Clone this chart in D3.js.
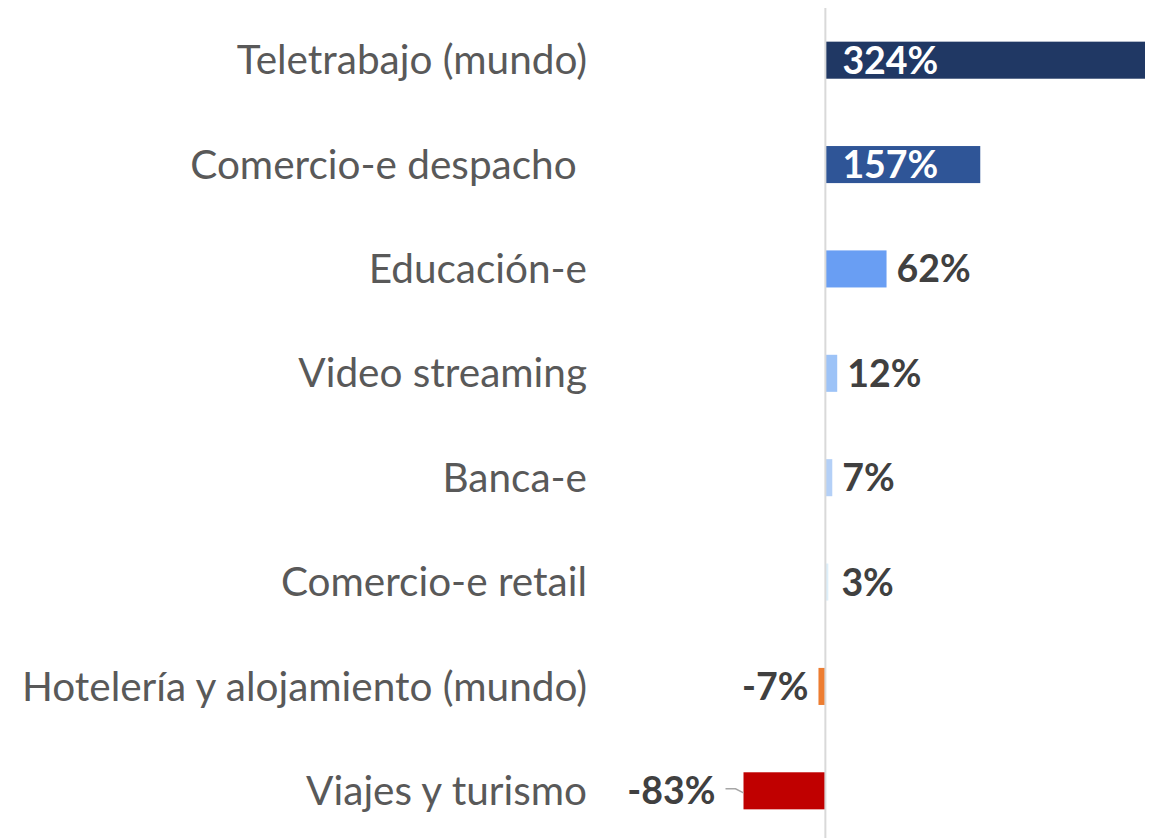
<!DOCTYPE html>
<html>
<head>
<meta charset="utf-8">
<script src="https://cdn.jsdelivr.net/npm/d3@7"></script>
<style>
  body { margin: 0; background: #fff; }
  svg { display: block; }
</style>
</head>
<body>
<div id="chart"></div>
<script>
// datos
var categorias = ["Teletrabajo (mundo)", "Comercio-e despacho ", "Educación-e", "Video streaming",
                  "Banca-e", "Comercio-e retail", "Hotelería y alojamiento (mundo)", "Viajes y turismo"];
var valores = [324, 157, 62, 12, 7, 3, -7, -83];
var colores = ["#203864", "#2F5597", "#699EF3", "#9DC3F7", "#B4D0F7", "#DDEFFA", "#ED7D31", "#C00000"];

var width = 1154, height = 838;

var svg = d3.select("#chart").append("svg")
    .attr("width", width)
    .attr("height", height);

var y = d3.scaleBand()
    .domain(categorias)
    .range([8, 843])
    .paddingInner(0.645)
    .paddingOuter(0.3225);

var x = d3.scaleLinear()
    .domain([-83, 324])
    .range([743.5, 1145]);

var x0 = x(0);

// barras
svg.selectAll(".bar")
    .data(valores)
    .enter().append("rect")
    .attr("class", "bar")
    .attr("x", function(d) { return Math.min(x(d), x0); })
    .attr("y", function(d, i) { return y(categorias[i]); })
    .attr("width", function(d) { return Math.abs(x(d) - x0); })
    .attr("height", y.bandwidth())
    .attr("fill", function(d, i) { return colores[i]; });

// eje vertical
svg.append("line")
    .attr("x1", x0).attr("x2", x0)
    .attr("y1", 8).attr("y2", height)
    .attr("stroke", "#D9D9D9")
    .attr("stroke-width", 2);

// etiquetas de categoria
svg.selectAll(".cat")
    .data(categorias)
    .enter().append("text")
    .attr("class", "cat")
    .attr("x", 587)
    .attr("y", function(d) { return y(d) + y.bandwidth() / 2; })
    .attr("dy", "0.35em")
    .attr("text-anchor", "end")
    .style("white-space", "pre")
    .attr("font-family", "Lato, 'Open Sans', sans-serif")
    .attr("font-size", 40.5)
    .attr("fill", "#595959")
    .text(function(d) { return d; });

// etiquetas de valor
svg.selectAll(".val")
    .data(valores)
    .enter().append("text")
    .attr("class", "val")
    .attr("x", function(d, i) {
        if (d > 100) return x0 + 17;
        if (d >= 0) return Math.max(x(d) + 10, x0 + 16);
        if (d > -20) return x(d) - 10;
        return x(d) - 28;
    })
    .attr("y", function(d, i) { return y(categorias[i]) + y.bandwidth() / 2; })
    .attr("dy", "0.36em")
    .attr("text-anchor", function(d) { return d < 0 ? "end" : "start"; })
    .attr("font-family", "Lato, 'Open Sans', sans-serif")
    .attr("font-weight", "bold")
    .attr("font-size", 37.5)
    .attr("fill", function(d) { return d > 100 ? "#ffffff" : "#404040"; })
    .text(function(d) { return d + "%"; });

// linea guia de -83%
var iv = valores.length - 1;
var yl = y(categorias[iv]) + y.bandwidth() / 2;
svg.append("path")
    .attr("d", "M" + (x(valores[iv]) - 18) + "," + (yl - 2) + " L" + (x(valores[iv]) - 8) + "," + (yl - 2) + " L" + x(valores[iv]) + "," + (yl + 2))
    .attr("fill", "none")
    .attr("stroke", "#A6A6A6")
    .attr("stroke-width", 1.5);
</script>
</body>
</html>
